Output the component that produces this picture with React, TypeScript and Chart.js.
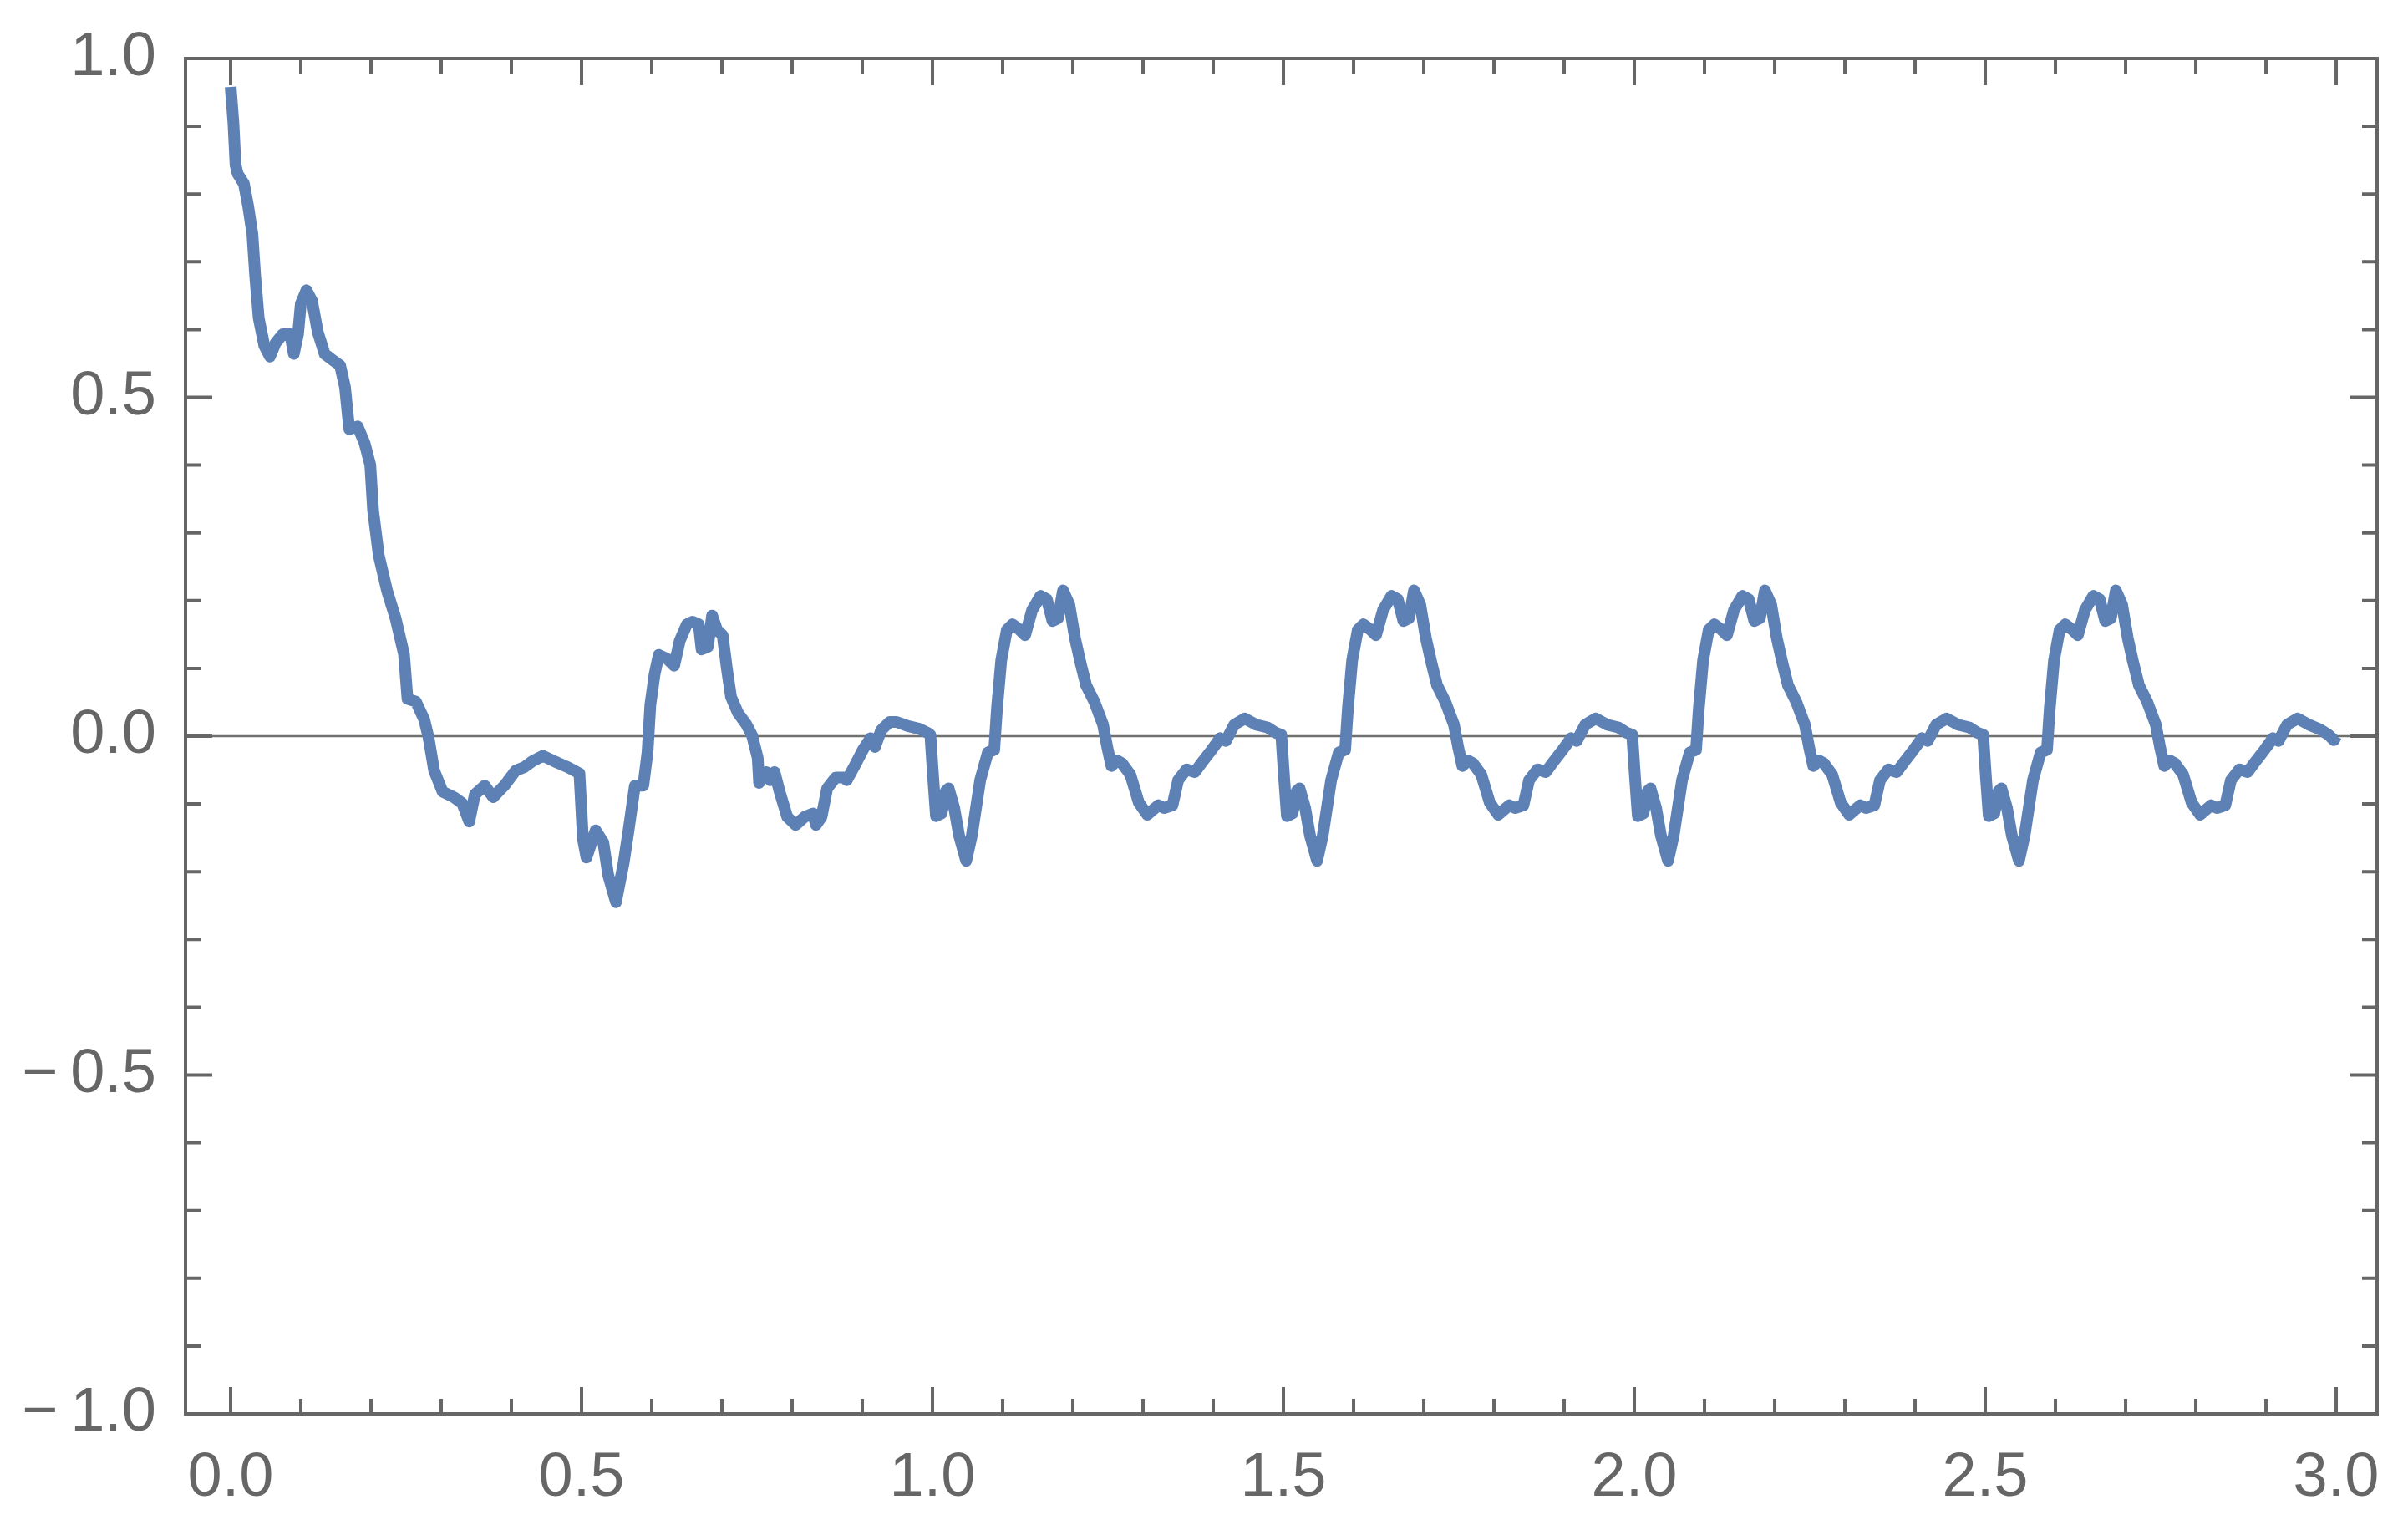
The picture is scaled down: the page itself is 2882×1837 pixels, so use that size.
import React, { useEffect, useRef } from "react";
import { Chart, registerables } from "chart.js";

Chart.register(...registerables);

// transient part, 0 .. 0.5
const xA = [0.0, 0.004, 0.007, 0.01, 0.019, 0.025, 0.031, 0.035, 0.04, 0.048, 0.056, 0.064, 0.074, 0.085, 0.09, 0.096, 0.1, 0.108, 0.116, 0.124, 0.134, 0.144, 0.156, 0.163, 0.169, 0.181, 0.191, 0.199, 0.203, 0.211, 0.223, 0.235, 0.247, 0.252, 0.264, 0.276, 0.282, 0.29, 0.302, 0.318, 0.33, 0.34, 0.348, 0.362, 0.374, 0.39, 0.406, 0.418, 0.43, 0.445, 0.461, 0.481, 0.497];
const yA = [0.958, 0.905, 0.843, 0.83, 0.815, 0.782, 0.741, 0.679, 0.617, 0.576, 0.56, 0.58, 0.593, 0.593, 0.564, 0.593, 0.638, 0.658, 0.642, 0.597, 0.564, 0.556, 0.547, 0.515, 0.453, 0.457, 0.432, 0.4, 0.333, 0.267, 0.214, 0.174, 0.121, 0.055, 0.051, 0.024, -0.002, -0.051, -0.082, -0.09, -0.099, -0.126, -0.086, -0.073, -0.09, -0.073, -0.051, -0.046, -0.037, -0.029, -0.037, -0.046, -0.055];

// 0.5 .. 1.0
const xB = [0.502, 0.507, 0.52, 0.531, 0.538, 0.549, 0.56, 0.567, 0.576, 0.588, 0.594, 0.598, 0.604, 0.61, 0.622, 0.632, 0.64, 0.65, 0.658, 0.667, 0.671, 0.68, 0.686, 0.693, 0.701, 0.707, 0.713, 0.723, 0.735, 0.743, 0.751, 0.753, 0.763, 0.769, 0.775, 0.782, 0.793, 0.805, 0.818, 0.83, 0.834, 0.842, 0.85, 0.862, 0.874, 0.878, 0.889, 0.901, 0.912, 0.918, 0.927, 0.939, 0.949, 0.965, 0.981, 0.993, 0.997];
const yB = [-0.152, -0.179, -0.139, -0.157, -0.205, -0.245, -0.187, -0.139, -0.073, -0.073, -0.024, 0.046, 0.091, 0.12, 0.114, 0.104, 0.141, 0.165, 0.169, 0.165, 0.128, 0.132, 0.178, 0.157, 0.149, 0.1, 0.058, 0.034, 0.017, 0.001, -0.032, -0.069, -0.053, -0.065, -0.053, -0.081, -0.119, -0.131, -0.119, -0.114, -0.131, -0.119, -0.077, -0.061, -0.061, -0.065, -0.044, -0.02, -0.003, -0.016, 0.009, 0.021, 0.021, 0.015, 0.011, 0.005, 0.002];

// 1.0 .. 1.5
const xC = [1.001, 1.005, 1.013, 1.019, 1.023, 1.031, 1.038, 1.048, 1.056, 1.068, 1.079, 1.088, 1.092, 1.098, 1.106, 1.114, 1.122, 1.132, 1.142, 1.154, 1.163, 1.171, 1.179, 1.186, 1.195, 1.203, 1.211, 1.219, 1.231, 1.243, 1.249, 1.255, 1.263, 1.27, 1.282, 1.294, 1.306, 1.322, 1.33, 1.342, 1.35, 1.362, 1.374, 1.386, 1.398, 1.41, 1.418, 1.43, 1.445, 1.461, 1.477, 1.489, 1.497];
const yC = [-0.061, -0.118, -0.114, -0.081, -0.077, -0.106, -0.147, -0.184, -0.147, -0.065, -0.024, -0.02, 0.042, 0.112, 0.157, 0.165, 0.159, 0.149, 0.186, 0.207, 0.202, 0.17, 0.174, 0.215, 0.194, 0.145, 0.108, 0.075, 0.05, 0.017, -0.016, -0.044, -0.036, -0.04, -0.057, -0.098, -0.116, -0.102, -0.106, -0.102, -0.065, -0.049, -0.053, -0.036, -0.02, -0.003, -0.007, 0.017, 0.026, 0.017, 0.013, 0.005, 0.002];

// 1.5 .. 2.0
const xD = [1.501, 1.505, 1.513, 1.519, 1.523, 1.531, 1.538, 1.548, 1.556, 1.568, 1.579, 1.588, 1.592, 1.598, 1.606, 1.614, 1.622, 1.632, 1.642, 1.654, 1.663, 1.671, 1.679, 1.686, 1.695, 1.703, 1.711, 1.719, 1.731, 1.743, 1.749, 1.755, 1.763, 1.77, 1.782, 1.794, 1.806, 1.822, 1.83, 1.842, 1.85, 1.862, 1.874, 1.886, 1.898, 1.91, 1.918, 1.93, 1.945, 1.961, 1.977, 1.989, 1.997];
const yD = [-0.061, -0.118, -0.114, -0.081, -0.077, -0.106, -0.147, -0.184, -0.147, -0.065, -0.024, -0.02, 0.042, 0.112, 0.157, 0.165, 0.159, 0.149, 0.186, 0.207, 0.202, 0.17, 0.174, 0.215, 0.194, 0.145, 0.108, 0.075, 0.05, 0.017, -0.016, -0.044, -0.036, -0.04, -0.057, -0.098, -0.116, -0.102, -0.106, -0.102, -0.065, -0.049, -0.053, -0.036, -0.02, -0.003, -0.007, 0.017, 0.026, 0.017, 0.013, 0.005, 0.002];

// 2.0 .. 2.5
const xE = [2.001, 2.005, 2.013, 2.019, 2.023, 2.031, 2.038, 2.048, 2.056, 2.068, 2.079, 2.088, 2.092, 2.098, 2.106, 2.114, 2.122, 2.132, 2.142, 2.154, 2.163, 2.171, 2.179, 2.186, 2.195, 2.203, 2.211, 2.219, 2.231, 2.243, 2.249, 2.255, 2.263, 2.27, 2.282, 2.294, 2.306, 2.322, 2.33, 2.342, 2.35, 2.362, 2.374, 2.386, 2.398, 2.41, 2.418, 2.43, 2.445, 2.461, 2.477, 2.489, 2.497];
const yE = [-0.061, -0.118, -0.114, -0.081, -0.077, -0.106, -0.147, -0.184, -0.147, -0.065, -0.024, -0.02, 0.042, 0.112, 0.157, 0.165, 0.159, 0.149, 0.186, 0.207, 0.202, 0.17, 0.174, 0.215, 0.194, 0.145, 0.108, 0.075, 0.05, 0.017, -0.016, -0.044, -0.036, -0.04, -0.057, -0.098, -0.116, -0.102, -0.106, -0.102, -0.065, -0.049, -0.053, -0.036, -0.02, -0.003, -0.007, 0.017, 0.026, 0.017, 0.013, 0.005, 0.002];

// 2.5 .. 3.0
const xF = [2.501, 2.505, 2.513, 2.519, 2.523, 2.531, 2.538, 2.548, 2.556, 2.568, 2.579, 2.588, 2.592, 2.598, 2.606, 2.614, 2.622, 2.632, 2.642, 2.654, 2.663, 2.671, 2.679, 2.686, 2.695, 2.703, 2.711, 2.719, 2.731, 2.743, 2.749, 2.755, 2.763, 2.77, 2.782, 2.794, 2.806, 2.822, 2.83, 2.842, 2.85, 2.862, 2.874, 2.886, 2.898, 2.91, 2.918, 2.93, 2.945, 2.961, 2.977, 2.989, 2.997, 3.0];
const yF = [-0.061, -0.118, -0.114, -0.081, -0.077, -0.106, -0.147, -0.184, -0.147, -0.065, -0.024, -0.02, 0.042, 0.112, 0.157, 0.165, 0.159, 0.149, 0.186, 0.207, 0.202, 0.17, 0.174, 0.215, 0.194, 0.145, 0.108, 0.075, 0.05, 0.017, -0.016, -0.044, -0.036, -0.04, -0.057, -0.098, -0.116, -0.102, -0.106, -0.102, -0.065, -0.049, -0.053, -0.036, -0.02, -0.003, -0.007, 0.017, 0.026, 0.017, 0.01, 0.002, -0.006, 0.0];

const xMajor = [0, 0.5, 1, 1.5, 2, 2.5, 3];
const xMinor = [0.1, 0.2, 0.3, 0.4, 0.6, 0.7, 0.8, 0.9, 1.1, 1.2, 1.3, 1.4, 1.6, 1.7, 1.8, 1.9, 2.1, 2.2, 2.3, 2.4, 2.6, 2.7, 2.8, 2.9];
const yMajor = [-1, -0.5, 0, 0.5, 1];
const yMinor = [-0.9, -0.8, -0.7, -0.6, -0.4, -0.3, -0.2, -0.1, 0.1, 0.2, 0.3, 0.4, 0.6, 0.7, 0.8, 0.9];

const AXIS_COLOR = "#666666";
const LINE_COLOR = "#5e81b5";
const TICK_FONT = { family: "'Liberation Sans', Arial, sans-serif", size: 74 };

const xs = [...xA, ...xB, ...xC, ...xD, ...xE, ...xF];
const ys = [...yA, ...yB, ...yC, ...yD, ...yE, ...yF];

const fmt = (v: number) => (v < 0 ? "\u2212\u2009" + Math.abs(v).toFixed(1) : v.toFixed(1));

// Mathematica-style frame with inward ticks on all four sides
const framePlugin = {
  id: "frame",
  beforeDatasetsDraw(chart: any) {
    const { ctx, chartArea, scales } = chart;
    const y0 = scales.y.getPixelForValue(0);
    ctx.save();
    ctx.strokeStyle = "#707070";
    ctx.lineWidth = 2.5;
    ctx.beginPath();
    ctx.moveTo(chartArea.left, y0);
    ctx.lineTo(chartArea.right, y0);
    ctx.stroke();
    ctx.restore();
  },
  afterDraw(chart: any) {
    const { ctx, chartArea, scales } = chart;
    const { left, right, top, bottom } = chartArea;
    ctx.save();
    ctx.strokeStyle = AXIS_COLOR;
    ctx.lineWidth = 4;
    ctx.strokeRect(left, top, right - left, bottom - top);
    const tickX = (vals: number[], len: number) => {
      vals.forEach((v) => {
        const px = scales.x.getPixelForValue(v);
        ctx.beginPath();
        ctx.moveTo(px, bottom);
        ctx.lineTo(px, bottom - len);
        ctx.moveTo(px, top);
        ctx.lineTo(px, top + len);
        ctx.stroke();
      });
    };
    const tickY = (vals: number[], len: number) => {
      vals.forEach((v) => {
        const py = scales.y.getPixelForValue(v);
        ctx.beginPath();
        ctx.moveTo(left, py);
        ctx.lineTo(left + len, py);
        ctx.moveTo(right, py);
        ctx.lineTo(right - len, py);
        ctx.stroke();
      });
    };
    tickX(xMajor, 32);
    tickX(xMinor, 18);
    tickY(yMajor, 32);
    tickY(yMinor, 18);
    ctx.restore();
  },
};

export default function App() {
  const canvasRef = useRef<HTMLCanvasElement | null>(null);

  useEffect(() => {
    if (!canvasRef.current) return;
    const chart = new Chart(canvasRef.current, {
      type: "line",
      data: {
        datasets: [
          {
            data: xs.map((x, i) => ({ x, y: ys[i] })),
            borderColor: LINE_COLOR,
            borderWidth: 14,
            pointRadius: 0,
            tension: 0,
            borderJoinStyle: "round",
            borderCapStyle: "butt",
            fill: false,
          },
        ],
      },
      options: {
        animation: false,
        responsive: true,
        maintainAspectRatio: false,
        layout: { padding: { left: 0, right: 37, top: 70, bottom: 0 } },
        plugins: { legend: { display: false }, tooltip: { enabled: false } },
        scales: {
          x: {
            type: "linear",
            min: -0.0643,
            max: 3.0583,
            afterBuildTicks: (scale: any) => {
              scale.ticks = xMajor.map((v) => ({ value: v }));
            },
            afterFit: (scale: any) => {
              scale.height = 145;
              scale.paddingLeft = 0;
              scale.paddingRight = 0;
            },
            grid: { display: false, drawTicks: false },
            border: { display: false },
            ticks: {
              padding: 33,
              maxRotation: 0,
              autoSkip: false,
              color: AXIS_COLOR,
              font: TICK_FONT,
              callback: (v: any) => fmt(Number(v)),
            },
          },
          y: {
            type: "linear",
            min: -1,
            max: 1,
            afterBuildTicks: (scale: any) => {
              scale.ticks = yMajor.map((v) => ({ value: v }));
            },
            afterFit: (scale: any) => {
              scale.width = 222;
              scale.paddingTop = 0;
              scale.paddingBottom = 0;
            },
            grid: { display: false, drawTicks: false },
            border: { display: false },
            ticks: {
              padding: 35,
              autoSkip: false,
              color: AXIS_COLOR,
              font: TICK_FONT,
              callback: (v: any) => fmt(Number(v)),
            },
          },
        },
      },
      plugins: [framePlugin],
    });
    return () => chart.destroy();
  }, []);

  return (
    <div style={{ position: "fixed", left: 0, top: 0, width: 2882, height: 1837, background: "#fff" }}>
      <canvas ref={canvasRef} />
    </div>
  );
}
